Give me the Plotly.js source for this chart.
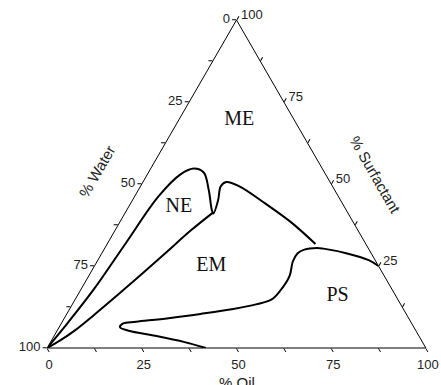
<!DOCTYPE html>
<html>
<head>
<meta charset="utf-8">
<script src="https://cdn.plot.ly/plotly-3.0.1.min.js"></script>
<style>html,body{margin:0;padding:0;background:#fff;}#chart{width:441px;height:385px;}</style>
</head>
<body>
<div id="chart"></div>
<script>
// Boundary 1: outer NE / ME boundary (surfactant, oil, water in %)
var outerSurf  = [0, 6.5, 18.0, 32.1, 46.2, 53.0, 54.7, 53.5, 48.3, 42.0, 41.0, 45.1, 49.3, 50.6, 49.3, 44.1, 38.3, 31.7];
var outerOil   = [0, 1.4, 3.4, 4.8, 6.3, 8.8, 11.4, 14.6, 18.5, 22.5, 23.4, 22.6, 21.2, 22.0, 26.1, 35.5, 45.3, 55.0];
var outerWater = [100, 92.1, 78.6, 63.1, 47.5, 38.2, 33.9, 31.9, 33.2, 35.5, 35.6, 32.3, 29.5, 27.4, 24.6, 20.4, 16.4, 13.3];

// Boundary 2: NE / EM boundary
var innerSurf  = [0, 2.3, 5.3, 10.0, 16.3, 22.7, 29.2, 35.8, 41.2];
var innerOil   = [0, 2.3, 4.6, 7.3, 10.6, 13.8, 16.9, 20.0, 23.1];
var innerWater = [100, 95.4, 90.1, 82.7, 73.1, 63.5, 53.9, 44.2, 35.7];

// Boundary 3: EM / PS boundary
var psSurf  = [0, 1.8, 3.9, 5.2, 6.3, 7.5, 8.0, 9.1, 10.4, 11.9, 13.3, 14.8, 17.4, 22.1, 26.3, 28.9, 30.0, 30.5, 30.3, 28.9, 26.8, 25.0];
var psOil   = [41.9, 35.4, 25.8, 19.2, 16.1, 16.3, 19.5, 27.5, 35.3, 43.2, 48.5, 51.9, 52.8, 53.0, 51.7, 51.7, 52.9, 56.0, 57.8, 64.5, 71.5, 75.0];
var psWater = [58.1, 62.8, 70.3, 75.6, 77.6, 76.2, 72.5, 63.4, 54.3, 44.9, 38.2, 33.3, 29.8, 24.9, 22.0, 19.4, 17.1, 13.5, 11.9, 6.6, 1.7, 0];

// Region labels
var regionNames = ['ME', 'NE', 'EM', 'PS'];
var regionSurf  = [69.4, 43.0, 24.9, 15.8];
var regionOil   = [16.0, 13.3, 30.9, 68.8];
var regionWater = [14.6, 43.7, 44.2, 15.4];

// Ticks (positions on each plotly axis, and the text printed there)
var aTickVals = [0, 12.5, 25, 37.5, 50, 62.5, 75, 87.5, 100];
var aTickText = ['100', '', '75', '', '50', '', '25', '', '0'];      // % Water on left edge
var bTickVals = [0, 12.5, 25, 37.5, 50, 62.5, 75, 87.5, 100];
var bTickText = ['100', '', '75', '', '50', '', '25', '', '0'];      // % Oil on bottom edge
var cTickVals = [0, 12.5, 25, 37.5, 50, 62.5, 75, 87.5];
var cTickText = ['100', '', '75', '', '50', '', '25', ''];           // % Surfactant on right edge

var lineStyle = {color: '#000', width: 2, shape: 'spline', smoothing: 1};

var traces = [
  {type: 'scatterternary', mode: 'lines', a: outerSurf, b: outerWater, c: outerOil, line: lineStyle, hoverinfo: 'skip'},
  {type: 'scatterternary', mode: 'lines', a: innerSurf, b: innerWater, c: innerOil, line: lineStyle, hoverinfo: 'skip'},
  {type: 'scatterternary', mode: 'lines', a: psSurf, b: psWater, c: psOil, line: lineStyle, hoverinfo: 'skip'},
  {type: 'scatterternary', mode: 'text', a: regionSurf, b: regionWater, c: regionOil, text: regionNames,
   textfont: {family: 'Liberation Serif, Times New Roman, serif', size: 20, color: '#111'}, hoverinfo: 'skip'}
];

var tickFont = {family: 'Liberation Sans, Arial, sans-serif', size: 13, color: '#222'};
function axis(vals, txt) {
  return {
    title: {text: ''},
    tickmode: 'array', tickvals: vals, ticktext: txt,
    ticks: 'outside', ticklen: 4, tickwidth: 1, tickcolor: '#000',
    showline: true, linecolor: '#000', linewidth: 1,
    showgrid: false, tickfont: tickFont, min: 0
  };
}

var titleFont = {family: 'Liberation Sans, Arial, sans-serif', size: 15, color: '#222'};
var layout = {
  width: 441, height: 385,
  margin: {l: 47, r: 15, t: 20, b: 37},
  paper_bgcolor: '#fff',
  showlegend: false,
  ternary: {
    sum: 100,
    bgcolor: '#fff',
    domain: {x: [0, 1], y: [0, 1]},
    aaxis: axis(aTickVals, aTickText),
    baxis: axis(bTickVals, bTickText),
    caxis: axis(cTickVals, cTickText)
  },
  annotations: [
    {text: '% Water', xref: 'paper', yref: 'paper', x: 0.132, y: 0.537, xanchor: 'center', yanchor: 'middle', showarrow: false, textangle: -60, font: titleFont},
    {text: '% Surfactant', xref: 'paper', yref: 'paper', x: 0.868, y: 0.527, xanchor: 'center', yanchor: 'middle', showarrow: false, textangle: 60, font: titleFont},
    {text: '% Oil', xref: 'paper', yref: 'paper', x: 0.5, y: -0.072, xanchor: 'center', yanchor: 'top', showarrow: false, font: titleFont}
  ]
};

Plotly.newPlot('chart', traces, layout, {displayModeBar: false, staticPlot: true});
</script>
</body>
</html>
